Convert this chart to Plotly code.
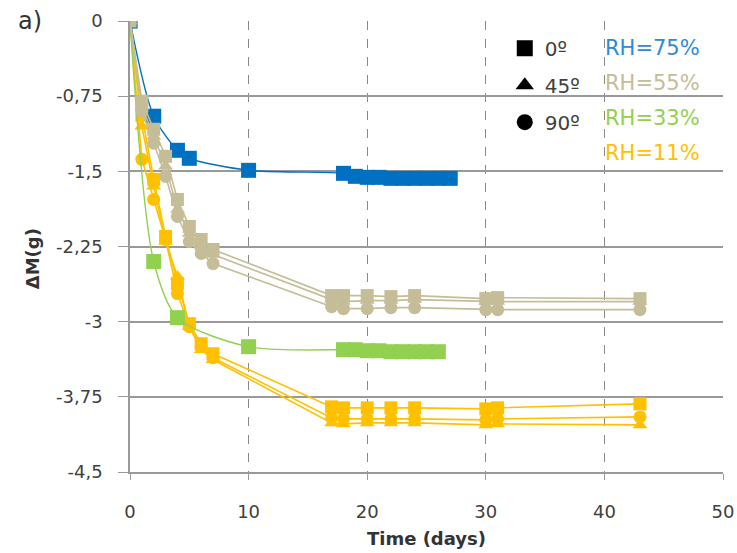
import plotly.graph_objects as go

# ---- data ----
t_blue = [0, 2, 4, 5, 10, 18, 19, 20, 21, 22, 23, 24, 25, 26, 27]
rh75_0 = [0, -0.95, -1.29, -1.37, -1.49, -1.52, -1.55, -1.56, -1.56, -1.57, -1.57, -1.57, -1.57, -1.57, -1.57]

t_green = [0, 2, 4, 10, 18, 19, 20, 21, 22, 23, 24, 25, 26]
rh33_0 = [0, -2.40, -2.96, -3.25, -3.28, -3.28, -3.29, -3.29, -3.30, -3.30, -3.30, -3.30, -3.30]

t_main = [0, 1, 2, 3, 4, 5, 6, 7, 17, 18, 20, 22, 24, 30, 31, 43]
rh55_0 = [0, -0.80, -1.08, -1.35, -1.78, -2.05, -2.18, -2.28, -2.74, -2.74, -2.74, -2.75, -2.74, -2.77, -2.76, -2.77]
rh55_45 = [0, -0.85, -1.15, -1.45, -1.88, -2.12, -2.25, -2.33, -2.78, -2.80, -2.79, -2.79, -2.78, -2.80, -2.80, -2.80]
rh55_90 = [0, -0.90, -1.22, -1.55, -1.95, -2.20, -2.32, -2.42, -2.85, -2.87, -2.87, -2.86, -2.86, -2.88, -2.88, -2.88]

rh11_0 = [0, -0.94, -1.58, -2.15, -2.62, -3.02, -3.22, -3.32, -3.85, -3.86, -3.86, -3.86, -3.86, -3.87, -3.86, -3.82]
rh11_45 = [0, -1.05, -1.65, -2.20, -2.55, -3.05, -3.28, -3.38, -4.01, -4.02, -4.01, -4.01, -4.01, -4.03, -4.02, -4.03]
rh11_90 = [0, -1.38, -1.78, -2.18, -2.72, -3.05, -3.25, -3.36, -3.96, -3.97, -3.97, -3.97, -3.97, -3.98, -3.97, -3.95]

y_ticks = [0, -0.75, -1.5, -2.25, -3, -3.75, -4.5]
y_ticktext = ["0", "-0,75", "-1,5", "-2,25", "-3", "-3,75", "-4,5"]
x_ticks = [0, 10, 20, 30, 40, 50]

angle_names = ["0º", "45º", "90º"]
rh_labels = ["RH=75%", "RH=55%", "RH=33%", "RH=11%"]

BLUE = "#0070C0"
BEIGE = "#C4BD97"
GREEN = "#92D050"
YELLOW = "#FFC000"
rh_colors = ["#2F8AD6", BEIGE, GREEN, YELLOW]

FONT = "DejaVu Sans"

fig = go.Figure()

def add(x, y, color, symbol, size, shape="linear", width=1.6):
    fig.add_trace(go.Scatter(
        x=x, y=y, mode="lines+markers", showlegend=False,
        line=dict(color=color, width=width, shape=shape, smoothing=0.8),
        marker=dict(color=color, symbol=symbol, size=size),
    ))

# yellow RH=11%
add(t_main, rh11_45, YELLOW, "triangle-up", 13)
add(t_main, rh11_90, YELLOW, "circle", 13)
add(t_main, rh11_0, YELLOW, "square", 13)
# green RH=33%
add(t_green, rh33_0, GREEN, "square", 15, shape="spline", width=1.4)
# blue RH=75%
add(t_blue, rh75_0, BLUE, "square", 15, shape="spline", width=1.4)
# beige RH=55%
add(t_main, rh55_45, BEIGE, "triangle-up", 13)
add(t_main, rh55_90, BEIGE, "circle", 13)
add(t_main, rh55_0, BEIGE, "square", 13)

# legend entries (black symbols)
for nm, sym in zip(angle_names, ["square", "triangle-up", "circle"]):
    fig.add_trace(go.Scatter(
        x=[None], y=[None], mode="markers", name=nm, legendgroup=nm,
        marker=dict(color="black", symbol=sym, size=18),
    ))

# RH labels
for i, (lab, col) in enumerate(zip(rh_labels, rh_colors)):
    fig.add_annotation(
        xref="paper", yref="paper", x=0.797, y=0.941 - i * 0.078,
        xanchor="left", yanchor="middle", text=lab, showarrow=False,
        font=dict(family=FONT, size=21, color=col),
    )

fig.add_annotation(
    xref="paper", yref="paper", x=-0.168, y=1.0, xanchor="center", yanchor="middle",
    text="a)", showarrow=False, font=dict(family=FONT, size=24, color="#333333"),
)
# y-axis title
fig.add_annotation(
    xref="paper", yref="paper", x=-0.165, y=0.472, xanchor="center", yanchor="middle",
    text="<b>ΔM(g)</b>", textangle=-90, showarrow=False,
    font=dict(family=FONT, size=18, color="#333333"),
)

fig.update_layout(
    width=737, height=553,
    margin=dict(l=130, r=14, t=21, b=81),
    paper_bgcolor="white", plot_bgcolor="white",
    font=dict(family=FONT, color="#333333"),
    legend=dict(
        x=0.632, y=0.983, xanchor="left", yanchor="top",
        bgcolor="rgba(0,0,0,0)", tracegroupgap=8,
        font=dict(family=FONT, size=20, color="#404040"),
        itemwidth=30,
    ),
    showlegend=True,
)

fig.update_xaxes(
    range=[0, 50], tickvals=x_ticks, showgrid=True, griddash="dash",
    gridcolor="#888888", gridwidth=1.3, showline=True, linecolor="#999999",
    linewidth=1.5, ticks="outside", ticklen=6, tickcolor="#999999",
    zeroline=False, tickfont=dict(family=FONT, size=18, color="#404040"),
    ticklabelstandoff=17, automargin=False,
    title=dict(text="<b>Time (days)</b>", font=dict(family=FONT, size=18, color="#333333"), standoff=11),
)
fig.update_yaxes(
    range=[-4.5, 0], tickvals=y_ticks, ticktext=y_ticktext, showgrid=True,
    gridcolor="#999999", gridwidth=1.5, showline=True, linecolor="#999999",
    linewidth=1.5, ticks="outside", ticklen=10, tickcolor="#999999",
    zeroline=False, tickfont=dict(family=FONT, size=18, color="#404040"),
    ticklabelstandoff=12, automargin=False,
)

fig.write_html("out.html")
